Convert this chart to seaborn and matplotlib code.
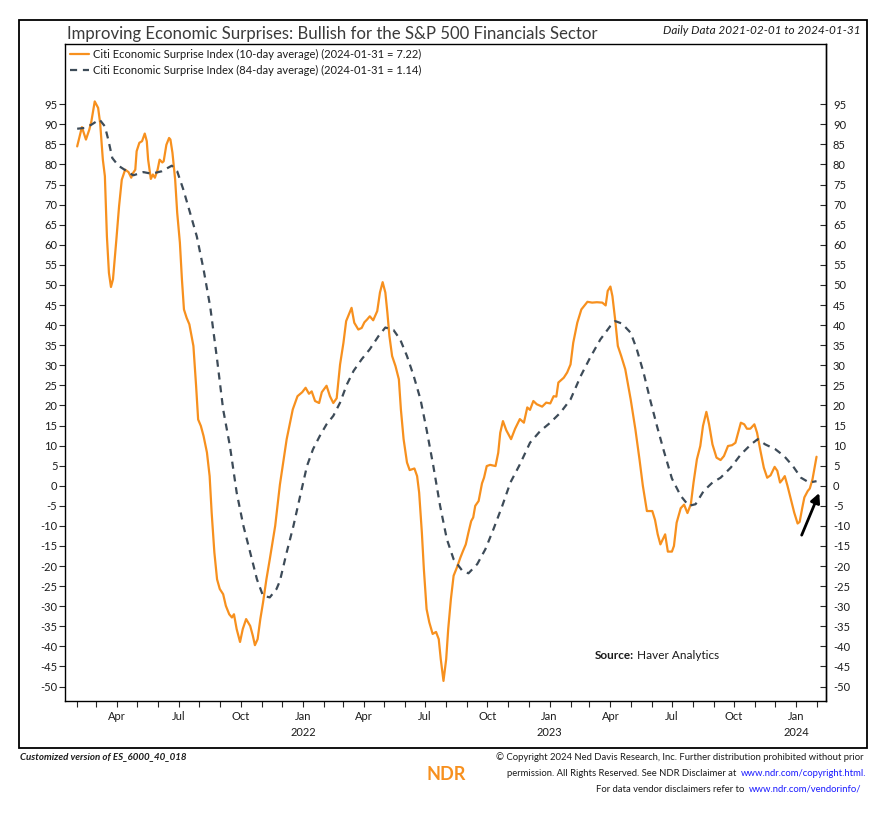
import numpy as np
import pandas as pd
import matplotlib
matplotlib.use("Agg")
import matplotlib.pyplot as plt
import matplotlib.dates as mdates
from matplotlib.patches import Rectangle
import seaborn as sns

# Citi Economic Surprise Index, 10-day average
cesi10_dates = [
    "2021-02-01", "2021-02-08", "2021-02-14", "2021-02-19", "2021-02-22", "2021-02-27", "2021-03-04",
    "2021-03-07", "2021-03-11", "2021-03-14", "2021-03-17", "2021-03-20", "2021-03-23", "2021-03-26",
    "2021-03-31", "2021-04-04", "2021-04-08", "2021-04-13", "2021-04-18", "2021-04-22", "2021-04-24",
    "2021-04-28", "2021-04-30", "2021-05-04", "2021-05-08", "2021-05-12", "2021-05-15", "2021-05-17",
    "2021-05-21", "2021-05-24", "2021-05-27", "2021-05-31", "2021-06-03", "2021-06-07", "2021-06-09",
    "2021-06-13", "2021-06-17", "2021-06-19", "2021-06-22", "2021-06-26", "2021-06-29", "2021-07-03",
    "2021-07-06", "2021-07-09", "2021-07-13", "2021-07-17", "2021-07-23", "2021-07-27", "2021-07-30",
    "2021-08-03", "2021-08-07", "2021-08-12", "2021-08-16", "2021-08-19", "2021-08-23", "2021-08-27",
    "2021-08-31", "2021-09-05", "2021-09-09", "2021-09-14", "2021-09-18", "2021-09-21", "2021-09-25",
    "2021-09-30", "2021-10-04", "2021-10-09", "2021-10-15", "2021-10-19", "2021-10-22", "2021-10-26",
    "2021-10-30", "2021-11-03", "2021-11-08", "2021-11-13", "2021-11-21", "2021-11-28", "2021-12-08",
    "2021-12-17", "2021-12-24", "2021-12-31", "2022-01-05", "2022-01-10", "2022-01-14", "2022-01-19",
    "2022-01-25", "2022-01-29", "2022-02-05", "2022-02-10", "2022-02-15", "2022-02-20", "2022-02-25",
    "2022-03-02", "2022-03-06", "2022-03-14", "2022-03-18", "2022-03-24", "2022-03-29", "2022-04-02",
    "2022-04-06", "2022-04-10", "2022-04-15", "2022-04-21", "2022-04-25", "2022-04-29", "2022-05-03",
    "2022-05-06", "2022-05-09", "2022-05-13", "2022-05-18", "2022-05-23", "2022-05-26", "2022-05-30",
    "2022-06-04", "2022-06-08", "2022-06-15", "2022-06-19", "2022-06-22", "2022-06-26", "2022-06-29",
    "2022-07-03", "2022-07-07", "2022-07-12", "2022-07-17", "2022-07-21", "2022-07-24", "2022-07-28",
    "2022-08-01", "2022-08-04", "2022-08-08", "2022-08-12", "2022-08-17", "2022-08-22", "2022-08-26",
    "2022-08-30", "2022-09-03", "2022-09-07", "2022-09-10", "2022-09-13", "2022-09-18", "2022-09-23",
    "2022-09-26", "2022-09-30", "2022-10-05", "2022-10-13", "2022-10-17", "2022-10-20", "2022-10-24",
    "2022-10-29", "2022-11-05", "2022-11-11", "2022-11-18", "2022-11-24", "2022-11-29", "2022-12-03",
    "2022-12-08", "2022-12-13", "2022-12-21", "2022-12-27", "2023-01-02", "2023-01-07", "2023-01-11",
    "2023-01-14", "2023-01-22", "2023-01-27", "2023-02-01", "2023-02-05", "2023-02-11", "2023-02-17",
    "2023-02-26", "2023-03-05", "2023-03-12", "2023-03-20", "2023-03-25", "2023-03-28", "2023-04-01",
    "2023-04-04", "2023-04-08", "2023-04-12", "2023-04-17", "2023-04-23", "2023-05-01", "2023-05-08",
    "2023-05-14", "2023-05-19", "2023-05-25", "2023-06-02", "2023-06-06", "2023-06-10", "2023-06-14",
    "2023-06-21", "2023-06-25", "2023-07-01", "2023-07-04", "2023-07-08", "2023-07-14", "2023-07-19",
    "2023-07-24", "2023-07-29", "2023-08-02", "2023-08-07", "2023-08-12", "2023-08-16", "2023-08-21",
    "2023-08-25", "2023-08-30", "2023-09-05", "2023-09-11", "2023-09-16", "2023-09-22", "2023-09-28",
    "2023-10-03", "2023-10-07", "2023-10-11", "2023-10-16", "2023-10-20", "2023-10-25", "2023-10-31",
    "2023-11-04", "2023-11-09", "2023-11-14", "2023-11-19", "2023-11-24", "2023-11-30", "2023-12-04",
    "2023-12-08", "2023-12-11", "2023-12-15", "2023-12-19", "2023-12-24", "2023-12-29", "2024-01-03",
    "2024-01-06", "2024-01-10", "2024-01-13", "2024-01-18", "2024-01-21", "2024-01-25", "2024-01-31",
]
cesi10_vals = [
    84.5, 89.3, 86.2, 88.7, 90.7, 95.7, 94.1,
    90.3, 81.2, 77.1, 62.1, 53.0, 49.5, 51.4,
    61.3, 69.6, 76.2, 78.7, 78.1, 76.7, 77.7,
    78.7, 83.3, 85.4, 85.8, 87.7, 85.8, 81.2,
    76.4, 77.5, 76.7, 78.7, 81.2, 80.5, 80.8,
    84.9, 86.6, 86.2, 82.9, 76.2, 68.0, 60.5,
    51.4, 43.9, 41.8, 40.2, 34.8, 24.8, 16.5,
    14.9, 12.4, 8.3, 2.4, -6.7, -16.6, -23.3,
    -25.7, -27.0, -29.9, -32.0, -32.8, -32.0, -35.7,
    -38.9, -35.7, -33.2, -34.9, -37.4, -39.7, -38.2,
    -33.2, -29.1, -23.3, -18.3, -10.0, 0.3, 11.6,
    19.0, 22.3, 23.3, 24.4, 22.9, 23.5, 21.1,
    20.6, 23.3, 24.9, 22.3, 20.6, 21.8, 30.2,
    35.6, 41.0, 44.3, 40.6, 38.9, 39.3, 40.7,
    41.4, 42.2, 41.2, 43.5, 48.1, 50.7, 48.1,
    43.1, 37.3, 32.3, 29.8, 26.5, 19.0, 11.6,
    5.8, 3.9, 4.3, 2.4, -1.7, -11.6, -20.8,
    -30.7, -34.0, -36.9, -36.4, -38.2, -43.2, -48.6,
    -43.2, -35.7, -28.2, -22.4, -20.3, -17.9, -16.2,
    -14.6, -11.6, -8.8, -7.9, -5.0, -3.8, 0.6,
    2.0, 4.9, 5.2, 4.9, 8.2, 13.2, 16.1,
    13.8, 11.6, 14.2, 16.6, 15.7, 19.5, 18.9,
    21.1, 20.3, 19.7, 20.7, 20.5, 22.3, 22.2,
    25.7, 26.9, 28.2, 30.2, 35.6, 40.6, 43.9,
    45.8, 45.6, 45.7, 45.6, 44.9, 48.5, 49.6,
    47.2, 41.4, 34.8, 32.3, 29.0, 21.5, 14.0,
    6.6, 0.0, -6.3, -6.3, -8.5, -12.1, -14.6,
    -12.1, -16.4, -16.4, -15.0, -9.2, -5.6, -4.7,
    -6.8, -4.6, 0.8, 6.6, 9.9, 14.9, 18.4,
    15.3, 10.3, 7.0, 6.4, 7.4, 9.9, 10.1,
    10.7, 13.2, 15.7, 15.3, 14.2, 14.2, 15.3,
    13.2, 8.7, 4.5, 2.0, 2.6, 4.7, 3.7,
    0.8, 1.4, 2.4, 0.0, -3.4, -6.7, -9.4,
    -9.0, -5.4, -2.9, -1.3, -0.7, 1.6, 7.22,
]

# Citi Economic Surprise Index, 84-day average
cesi84_dates = [
    "2021-02-01", "2021-02-12", "2021-02-22", "2021-03-06", "2021-03-14", "2021-03-19", "2021-03-25",
    "2021-04-03", "2021-04-13", "2021-04-25", "2021-05-10", "2021-05-22", "2021-06-06", "2021-06-21",
    "2021-06-29", "2021-07-08", "2021-07-18", "2021-07-28", "2021-08-07", "2021-08-17", "2021-08-27",
    "2021-09-05", "2021-09-15", "2021-09-25", "2021-10-05", "2021-10-15", "2021-10-25", "2021-11-03",
    "2021-11-13", "2021-11-23", "2021-11-28", "2021-12-08", "2021-12-18", "2021-12-28", "2022-01-07",
    "2022-01-16", "2022-01-26", "2022-02-05", "2022-02-15", "2022-02-25", "2022-03-07", "2022-03-17",
    "2022-03-29", "2022-04-10", "2022-04-23", "2022-05-03", "2022-05-15", "2022-05-25", "2022-06-04",
    "2022-06-14", "2022-06-24", "2022-07-03", "2022-07-13", "2022-07-23", "2022-08-02", "2022-08-12",
    "2022-08-25", "2022-09-03", "2022-09-16", "2022-09-28", "2022-10-10", "2022-10-23", "2022-11-04",
    "2022-11-18", "2022-12-03", "2022-12-18", "2023-01-02", "2023-01-17", "2023-02-01", "2023-02-16",
    "2023-03-02", "2023-03-17", "2023-04-01", "2023-04-08", "2023-04-18", "2023-05-01", "2023-05-10",
    "2023-05-20", "2023-05-30", "2023-06-09", "2023-06-19", "2023-07-01", "2023-07-14", "2023-07-26",
    "2023-08-05", "2023-08-17", "2023-08-30", "2023-09-11", "2023-09-26", "2023-10-11", "2023-10-26",
    "2023-11-05", "2023-11-16", "2023-12-01", "2023-12-14", "2023-12-27", "2024-01-08", "2024-01-20",
    "2024-01-31",
]
cesi84_vals = [
    88.9, 89.1, 89.9, 91.2, 89.5, 86.2, 81.6,
    79.7, 78.6, 77.3, 78.1, 77.7, 78.3, 79.7,
    78.3, 73.8, 68.0, 62.1, 53.9, 44.4, 31.5,
    19.0, 9.9, -1.7, -10.0, -16.6, -23.3, -27.4,
    -27.8, -25.7, -23.7, -16.6, -10.0, -2.5, 4.9,
    9.1, 12.4, 15.3, 17.4, 20.7, 25.2, 28.6,
    31.5, 34.0, 37.3, 39.4, 38.8, 36.4, 32.3,
    27.3, 21.5, 14.0, 4.9, -5.0, -13.3, -18.3,
    -21.2, -21.8, -19.5, -15.8, -10.8, -5.0, 0.8,
    5.3, 10.7, 13.6, 15.7, 18.2, 21.5, 27.3,
    31.9, 36.4, 39.8, 41.0, 40.4, 38.1, 34.0,
    28.2, 21.3, 14.8, 8.7, 1.8, -2.5, -5.0,
    -4.6, -1.3, 0.8, 2.0, 4.5, 7.8, 10.3,
    11.6, 10.3, 9.1, 7.4, 4.9, 2.0, 0.8,
    1.14,
]

yticks = list(range(-50, 100, 5))

orange = "#F7901E"
slate = "#3D4B58"
ink = "#1b1b1b"
link_blue = "#1a1aff"

df10 = pd.DataFrame({"date": pd.to_datetime(cesi10_dates), "value": cesi10_vals})
df84 = pd.DataFrame({"date": pd.to_datetime(cesi84_dates), "value": cesi84_vals})

sns.set_style("ticks")
plt.rcParams["font.family"] = ["Lato", "DejaVu Sans"]

W, H = 890, 817
fig = plt.figure(figsize=(W / 100, H / 100), dpi=100)
ax = fig.add_axes([65 / W, 1 - 701 / H, (826 - 65) / W, (701 - 44) / H])

sns.lineplot(data=df10, x="date", y="value", ax=ax, color=orange, lw=1.6,
             label="Citi Economic Surprise Index (10-day average) (2024-01-31 = 7.22)")
sns.lineplot(data=df84, x="date", y="value", ax=ax, color=slate, lw=1.6,
             dashes=False, linestyle=(0, (3.2, 2.6)),
             label="Citi Economic Surprise Index (84-day average) (2024-01-31 = 1.14)")

ax.set_xlim(pd.Timestamp("2021-01-14"), pd.Timestamp("2024-02-14"))
ax.set_ylim(-53.6, 110)
ax.set_xlabel("")
ax.set_ylabel("")

for s in ax.spines.values():
    s.set_visible(True)
    s.set_color("black")
    s.set_linewidth(1.0)

# y ticks: outward on the left, inward on the right
ax.set_yticks(yticks)
ax.set_yticklabels([str(t) for t in yticks])
ax.tick_params(axis="y", direction="out", length=4, width=0.8, pad=1.5,
               labelsize=8, labelcolor=ink, left=True, right=False)
sec = ax.secondary_yaxis("right")
sec.set_yticks(yticks)
sec.set_yticklabels([str(t) for t in yticks])
sec.tick_params(axis="y", direction="in", length=4, width=0.8, pad=5,
                labelsize=8, labelcolor=ink)
sec.spines["right"].set_linewidth(1.0)


def month_label(x, pos=None):
    d = mdates.num2date(x)
    if d.month == 1:
        return "Jan\n" + str(d.year)
    return d.strftime("%b")


ax.xaxis.set_major_locator(mdates.MonthLocator(bymonth=[1, 4, 7, 10]))
ax.xaxis.set_minor_locator(mdates.MonthLocator())
ax.xaxis.set_major_formatter(plt.FuncFormatter(month_label))
ax.tick_params(axis="x", which="both", direction="out", length=4, width=0.8,
               top=False, bottom=True)
ax.tick_params(axis="x", which="major", labelsize=8, labelcolor=ink, pad=3)
for lab in ax.get_xticklabels():
    lab.set_linespacing(1.55)

leg = ax.legend(loc="upper left", bbox_to_anchor=(0.0, 1.0), frameon=False,
                fontsize=8, handlelength=1.7, handletextpad=0.35, labelspacing=0.45,
                borderaxespad=0.25, borderpad=0.2)
for t in leg.get_texts():
    t.set_color(ink)

# arrow pointing at the latest reading
ax.annotate("", xy=(pd.Timestamp("2024-02-04"), -1.8), xytext=(pd.Timestamp("2024-01-09"), -12.3),
            arrowprops=dict(arrowstyle="-|>", color="black", lw=2.0, mutation_scale=14,
                            shrinkA=0, shrinkB=0))

ax.text(0.696, 0.070, "Source:", transform=ax.transAxes, fontsize=8.5,
        fontweight="bold", color=ink, ha="left", va="center")
ax.text(0.752, 0.070, "Haver Analytics", transform=ax.transAxes, fontsize=8.5,
        color=ink, ha="left", va="center")

# outer frame, title and footer
fig.patches.append(Rectangle((19 / W, 1 - 748 / H), (867 - 19) / W, (748 - 20) / H,
                             transform=fig.transFigure, fill=False, lw=1.3,
                             edgecolor="black"))
fig.text(67 / W, 1 - 34 / H, "Improving Economic Surprises: Bullish for the S&P 500 Financials Sector",
         fontsize=12.1, color="#3a3a3a", ha="left", va="center")
fig.text(861 / W, 1 - 31 / H, "Daily Data 2021-02-01 to 2024-01-31", fontsize=8.5,
         style="italic", color=ink, ha="right", va="center")

fig.text(20 / W, 1 - 757 / H, "Customized version of ES_6000_40_018", fontsize=7,
         style="italic", fontweight="bold", color=ink, ha="left", va="center")
fig.text(446 / W, 1 - 774 / H, "NDR", fontsize=13, fontweight="bold", color=orange,
         ha="center", va="center")

renderer = fig.canvas.get_renderer()


def footer_pair(x_right, y, plain, link):
    # link text flush right, plain text just left of it
    lt = fig.text(x_right / W, 1 - y / H, link, fontsize=6.8, color=link_blue,
                  ha="right", va="center")
    x0 = lt.get_window_extent(renderer).x0
    fig.text((x0 - 4) / W, 1 - y / H, plain, fontsize=6.8, color=ink,
             ha="right", va="center")


fig.text(864 / W, 1 - 757 / H,
         "\u00a9 Copyright 2024 Ned Davis Research, Inc. Further distribution prohibited without prior",
         fontsize=6.8, color=ink, ha="right", va="center")
footer_pair(866, 773, "permission. All Rights Reserved. See NDR Disclaimer at", "www.ndr.com/copyright.html.")
footer_pair(861, 789, "For data vendor disclaimers refer to", "www.ndr.com/vendorinfo/")

fig.savefig("out.png", dpi=100)
